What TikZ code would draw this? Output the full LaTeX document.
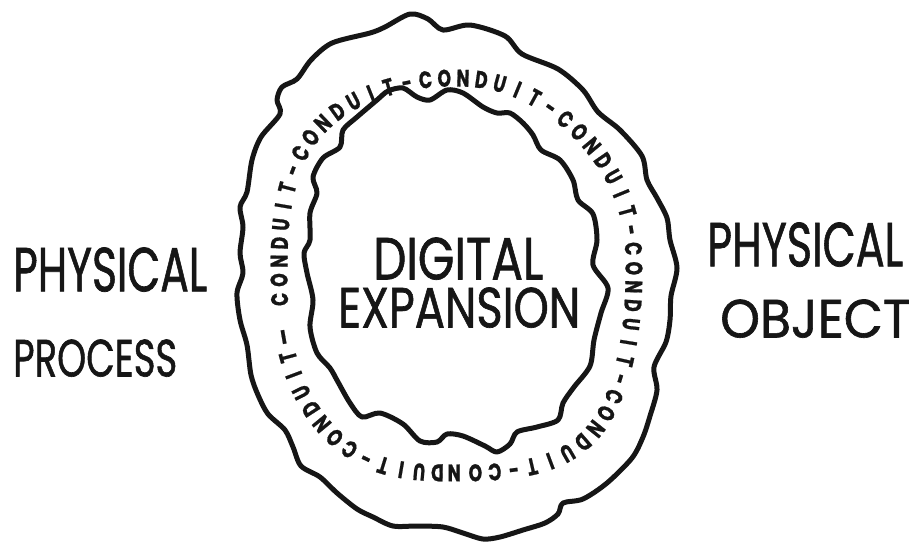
\documentclass[tikz,border=0pt]{standalone}
\usepackage{graphicx}
\usepackage{fontspec}
\setmainfont{Poppins}
\newfontfamily\ringfont[FakeStretch=0.72, FakeBold=0.8]{Poppins}
\newfontfamily\capfont[FakeBold=1.2]{Poppins}
\definecolor{ink}{HTML}{161616}
% point on the lettering band: a rounded-square ellipse whose squareness
% changes smoothly round the ring
\newcommand\ringpoint[3]{%
  \pgfmathsetmacro\rc{cos(#1)}%
  \pgfmathsetmacro\rs{sin(#1)}%
  \pgfmathsetmacro\rp{0.825-0.075*sin(2*(#1))+0.0354*\rc-0.106*\rs}%
  \pgfmathsetmacro\ra{ifthenelse(\rc>0,179,176)}%
  \pgfmathsetmacro\rb{ifthenelse(\rs>0,203,192)}%
  \pgfmathsetmacro#2{455+\ra*(\rc)*exp((\rp-1)*ln(abs(\rc)+0.00001))}%
  \pgfmathsetmacro#3{270+\rb*(\rs)*exp((\rp-1)*ln(abs(\rs)+0.00001))}%
}
% walk \tcur forward by one letter pitch, measured along the band
\newcommand\ringadvance{%
  \foreach \sub in {1,...,5}{%
    \ringpoint{\tcur-0.3}{\xa}{\ya}%
    \ringpoint{\tcur+0.3}{\xb}{\yb}%
    \pgfmathsetmacro\tnew{\tcur+0.2*0.6*\ringpitch/veclen(\xb-\xa,\yb-\ya)}%
    \xdef\tcur{\tnew}%
  }%
}
% one letter at \tcur, turned along the band
\newcommand\ringletter[2]{%
  \ringpoint{\tcur-0.6}{\xa}{\ya}%
  \ringpoint{\tcur+0.6}{\xb}{\yb}%
  \ringpoint{\tcur}{\xc}{\yc}%
  \pgfmathsetmacro\rot{atan2(\ya-\yb,\xb-\xa)}%
  \node[ringchar, rotate=\rot] (#1) at (\xc,\yc) {#2};%
}
\def\ringpitch{18.8}
\begin{document}
\begin{tikzpicture}[x=1pt,y=-1pt,
  wavy/.style={draw=ink, line width=5pt, line join=round, line cap=round},
  caption/.style={inner sep=0pt, anchor=south west, text=ink, font=\capfont},
  ringchar/.style={inner sep=0pt, text=ink, text height=17pt, text depth=0pt,
    font=\ringfont\fontsize{24}{24}\selectfont\bfseries}]
\useasboundingbox (0,0) rectangle (915,542);

% outer wavy boundary
\draw[wavy] plot[smooth cycle, tension=0.5] coordinates {
 (410,14) (428,19) (443,30) (470,25) (505,36) (522,54) (558,69) (583,90)
 (598,112) (620,130) (642,156) (647,180) (657,198) (667,218) (670,240)
 (677,268) (671,296) (670,320) (666,342) (654,367) (657,390) (650,416)
 (643,437) (632,458) (607,483) (583,499) (563,503) (558,514) (545,523)
 (523,530) (500,537) (483,539) (463,533) (443,527) (417,526) (393,526)
 (373,517) (357,509) (337,493) (320,477) (301,466) (293,447) (285,430)
 (268,414) (258,395) (251,375) (247,345) (240,320) (237,293) (243,273)
 (240,253) (243,227) (240,207) (247,192) (252,160) (261,137) (280,114)
 (277,100) (282,87) (297,79) (311,60) (332,43) (370,33) (385,27)};

% inner wavy boundary
\draw[wavy] plot[smooth cycle, tension=0.5] coordinates {
 (403,88) (417,97) (430,100) (447,90) (463,93) (483,107) (497,113)
 (510,113) (523,123) (533,135) (541,150) (560,160) (573,180) (578,200)
 (593,214) (597,240) (593,265) (608,288) (601,313) (594,340) (590,366)
 (574,387) (563,403) (558,420) (537,427) (517,432) (510,444) (497,452)
 (485,446) (463,436) (447,434) (437,442) (420,441) (403,424) (380,413)
 (362,417) (350,403) (338,382) (330,368) (317,353) (310,327) (313,300)
 (307,273) (304,253) (310,240) (310,213) (317,193) (313,177) (323,158)
 (340,147) (343,130) (357,117) (377,100) (388,91)};

% lettering running clockwise through the band, tops facing outward
\xdef\tcur{165.5}
\ringletter{lead}{—}
\ringadvance
\ringadvance
\foreach \w in {0,...,7}{
  \foreach \ch [count=\k from 0] in {C,O,N,D,U,I,T,-}{
    \pgfmathtruncatemacro\omitch{(\w==7)&&(\k==7)}
    \ifnum\omitch=0
      \ringletter{w\w-\k}{\ch}
      \ringadvance
    \fi
  }
}

% centre and side captions
\node[caption] (digital) at (373,280) {\resizebox{170pt}{42pt}{DIGITAL}};
\node[caption] (expansion) at (338,328) {\resizebox{242pt}{40pt}{EXPANSION}};
\node[caption] (physL) at (13,292) {\resizebox{194pt}{44pt}{PHYSICAL}};
\node[caption] (process) at (13,377) {\resizebox{164pt}{37pt}{PROCESS}};
\node[caption] (physR) at (707,267) {\resizebox{196pt}{44pt}{PHYSICAL}};
\node[caption] (object) at (720,338) {\resizebox{190pt}{38pt}{OBJECT}};
\end{tikzpicture}
\end{document}
